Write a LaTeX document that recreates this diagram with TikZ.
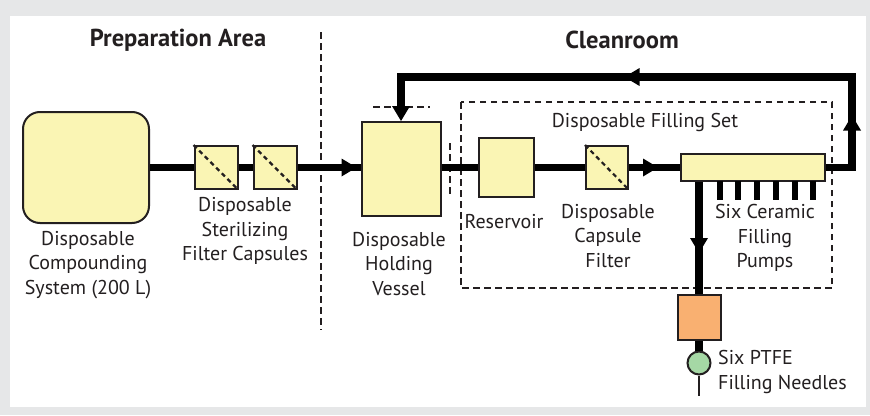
\documentclass[tikz,border=0pt]{standalone}
\usepackage{fontspec}
\setmainfont{PT Sans}
\usetikzlibrary{arrows.meta,decorations.markings}
\definecolor{bg}{HTML}{E6E7E8}
\definecolor{ink}{HTML}{231F20}
\definecolor{yel}{HTML}{FAF5B4}
\definecolor{org}{HTML}{F9B071}
\definecolor{grn}{HTML}{A5D8A5}
\tikzset{
  box/.style={draw=ink, line width=2pt, fill=yel, inner sep=0pt},
  pipe/.style={line width=7.5pt, draw=black},
  dsh/.style={line width=2pt, draw=ink, dash pattern=on 6.5pt off 4.5pt},
  filt/.style={line width=2.2pt, draw=ink, dash pattern=on 4.5pt off 3.5pt},
  lbl/.style={font=\fontsize{20}{24.5}\selectfont, text=ink, align=center, inner sep=0pt},
  ttl/.style={font=\fontsize{24.5}{28}\selectfont\bfseries, text=ink, inner sep=0pt},
  tipstyle/.tip={Triangle[length=15pt,width=18pt,line width=0pt]},
  markA/.style={postaction={decorate}, decoration={markings, mark=at position #1 with {\arrow{tipstyle}}}},
  markB/.style 2 args={postaction={decorate}, decoration={markings, mark=at position #1 with {\arrow{tipstyle}}, mark=at position #2 with {\arrow{tipstyle}}}}
}
\begin{document}
\begin{tikzpicture}[x=1pt,y=-1pt]
\useasboundingbox (0,0) rectangle (870,415);
\fill[bg] (0,0) rectangle (870,415);
\fill[white] (10,16) rectangle (866,407);

% titles and divider
\node[ttl] (tprep) at (178,40) {Preparation Area};
\node[ttl] (tclean) at (622,40) {Cleanroom};
\draw[dsh] (321,32) -- (321,330);

% components
\node[box, rounded corners=17pt, minimum width=126pt, minimum height=111pt] (comp) at (86,167.5) {};
\node[box, minimum width=43pt, minimum height=43pt] (f1) at (216,167.5) {};
\node[box, minimum width=43pt, minimum height=43pt] (f2) at (275,167.5) {};
\node[box, minimum width=79pt, minimum height=94pt] (hold) at (401,169) {};
\node[box, minimum width=55pt, minimum height=59pt] (res) at (506.5,167.5) {};
\node[box, minimum width=42pt, minimum height=43pt] (cf) at (607,167.5) {};
\node[box, minimum width=144pt, minimum height=27pt] (man) at (753,167.5) {};
\node[box, fill=org, minimum width=43pt, minimum height=45pt] (pump) at (699,317.5) {};
\node[circle, draw=ink, line width=2pt, fill=grn, minimum size=23pt, inner sep=0pt] (ndl) at (699,363) {};

% filter diagonals
\draw[filt] (f1.north west) -- (f1.south east);
\draw[filt] (f2.north west) -- (f2.south east);
\draw[filt] (cf.north west) -- (cf.south east);

% dashed marks
\draw[dsh] (373,107) -- (430,107);
\draw[dsh] (450,143) -- (450,197);
\draw[dsh] (461,102) rectangle (832,288);

% pipes
\draw[pipe] (comp.east) -- (f1.west);
\draw[pipe] (f1.east) -- (f2.west);
\draw[pipe, markA=59pt] (f2.east) -- (f2.east -| hold.west);
\draw[pipe] (hold.east |- res.west) -- (res.west);
\draw[pipe] (res.east) -- (cf.west);
\draw[pipe, markA=29pt] (cf.east) -- (man.west);
\coordinate (tr) at (852,77);
\draw[pipe, markB={78pt}{344pt}, -{tipstyle}] (man.east) -| (tr) -| (hold.north);
\draw[pipe, markA=71pt] (man.south -| pump.north) -- (pump.north);
\draw[pipe] (pump.south) -- (ndl.north);
\coordinate (ndlend) at (699,396);
\draw[line width=2pt, draw=ink] (ndl.south) -- (ndlend);

% pump bars
\foreach \bx in {720,738,757,776,795,813}
  \draw[line width=6pt, draw=black] (\bx,181) -- (\bx,199.5);

% labels
\node[lbl] (lcomp) at (88,265) {Disposable\\Compounding\\System (200 L)};
\node[lbl] (lfilt) at (245,231) {Disposable\\Sterilizing\\Filter Capsules};
\node[lbl] (lhold) at (399,264) {Disposable\\Holding\\Vessel};
\node[lbl] (lset) at (645,122) {Disposable Filling Set};
\node[lbl] (lres) at (504,222) {Reservoir};
\node[lbl] (lcf) at (608,236) {Disposable\\Capsule\\Filter};
\node[lbl] (lpumps) at (765,238) {Six Ceramic\\Filling\\Pumps};
\node[lbl, anchor=west, align=left] (lndl) at (718,372) {Six PTFE\\Filling Needles};
\end{tikzpicture}
\end{document}
